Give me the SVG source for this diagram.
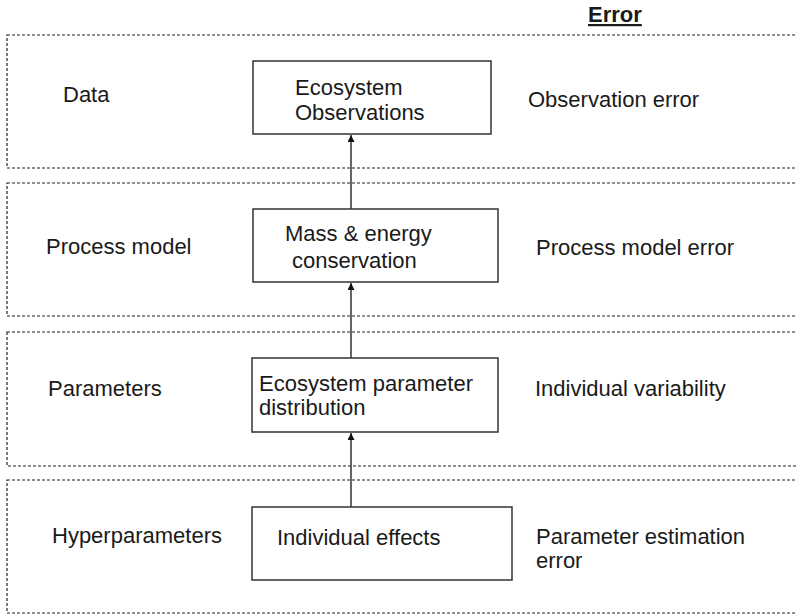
<svg xmlns="http://www.w3.org/2000/svg" width="796" height="614" viewBox="0 0 796 614">
<defs>
<marker id="ah" viewBox="0 0 10 10" refX="10" refY="5" markerWidth="7" markerHeight="7" orient="auto" markerUnits="userSpaceOnUse">
<path d="M0,0 L10,5 L0,10 z" fill="#111"/>
</marker>
<style>
.band{fill:none;stroke:#222;stroke-width:1.2;stroke-dasharray:3 2}
.node{fill:#fff;stroke:#333;stroke-width:1.5}
.t{font-family:"Liberation Sans",Arial,Helvetica,sans-serif;font-size:22px;fill:#1a1a1a}
.edge{stroke:#333;stroke-width:1.5;fill:none;marker-end:url(#ah)}
</style>
</defs>
<rect width="796" height="614" fill="#fff"/>
<g id="bands">
<rect class="band" x="7" y="35" width="800" height="133"/>
<rect class="band" x="7" y="183" width="800" height="133"/>
<rect class="band" x="7" y="332" width="800" height="134"/>
<rect class="band" x="7" y="480" width="800" height="133"/>
</g>
<g id="labels">
<text class="t" x="63" y="102">Data</text>
<text class="t" x="46" y="254">Process model</text>
<text class="t" x="48" y="396">Parameters</text>
<text class="t" x="52" y="543">Hyperparameters</text>
</g>
<g id="errors">
<text class="t" x="588" y="22" font-weight="bold" text-decoration="underline">Error</text>
<text class="t" x="528" y="107">Observation error</text>
<text class="t" x="536" y="255">Process model error</text>
<text class="t" x="535" y="396">Individual variability</text>
<text class="t" x="536" y="544">Parameter estimation</text>
<text class="t" x="536" y="568">error</text>
</g>
<g id="node-observations">
<rect class="node" x="253" y="61" width="238" height="73"/>
<text class="t" x="295" y="95">Ecosystem</text>
<text class="t" x="295" y="120">Observations</text>
</g>
<g id="node-mass">
<rect class="node" x="253" y="209" width="245" height="73"/>
<text class="t" x="285" y="241">Mass &amp; energy</text>
<text class="t" x="292" y="268">conservation</text>
</g>
<g id="node-param">
<rect class="node" x="252" y="358" width="246" height="74"/>
<text class="t" x="259" y="391">Ecosystem parameter</text>
<text class="t" x="259" y="415">distribution</text>
</g>
<g id="node-individual">
<rect class="node" x="252" y="507" width="260" height="73"/>
<text class="t" x="277" y="545">Individual effects</text>
</g>
<g id="connectors">
<line class="edge" x1="351" y1="209" x2="351" y2="135"/>
<line class="edge" x1="351" y1="358" x2="351" y2="283"/>
<line class="edge" x1="351" y1="507" x2="351" y2="433"/>
</g>
</svg>
